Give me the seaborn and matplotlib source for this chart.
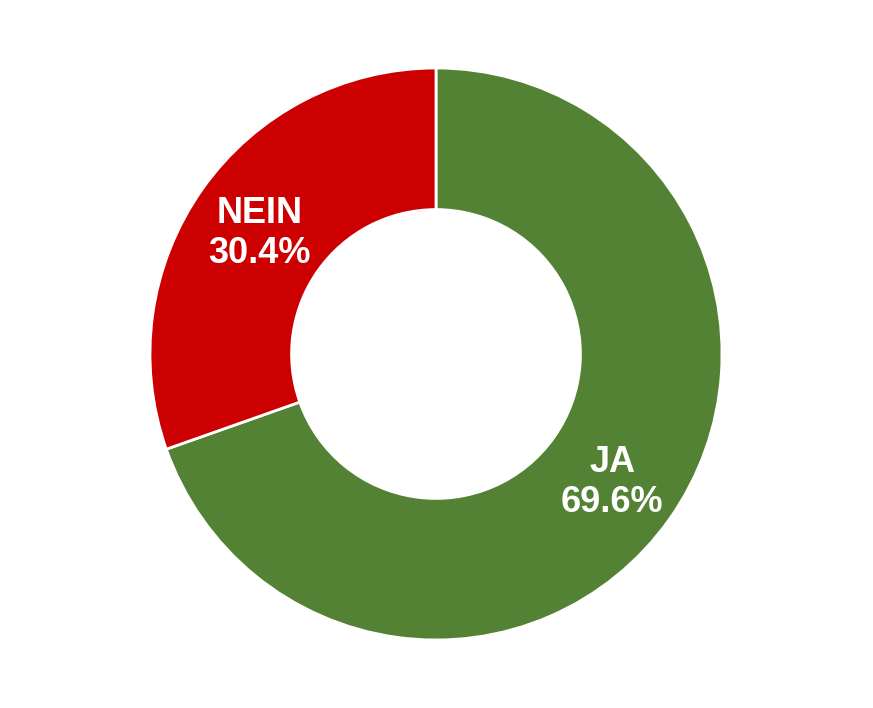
import matplotlib
matplotlib.use("Agg")
import matplotlib.pyplot as plt
import matplotlib.transforms as mtransforms
import seaborn as sns

categories = ["JA", "NEIN"]
values = [69.6, 30.4]
colors = ["#548235", "#CC0000"]

sns.set_theme(style="white")
plt.rcParams["font.family"] = ["Liberation Sans", "DejaVu Sans"]

W, H = 873, 708
fig = plt.figure(figsize=(W / 100, H / 100), dpi=100)
cx, cy, r = 436, 354, 286
ax = fig.add_axes([(cx - r) / W, (H - cy - r) / H, 2 * r / W, 2 * r / H])

labels = [f"{c}\n{v:.1f}%" for c, v in zip(categories, values)]
wedges, texts = ax.pie(
    values,
    labels=labels,
    colors=colors,
    startangle=90,
    counterclock=False,
    labeldistance=0.755,
    radius=1.0,
    wedgeprops=dict(width=0.495, edgecolor="white", linewidth=2),
    textprops=dict(color="white", fontsize=26, fontweight="bold", ha="center", va="center"),
)
offset = mtransforms.ScaledTranslation(0, -4 / 100, fig.dpi_scale_trans)
for t in texts:
    t.set_horizontalalignment("center")
    t.set_verticalalignment("center")
    t.set_linespacing(1.18)
    t.set_transform(t.get_transform() + offset)

ax.set_xlim(-1, 1)
ax.set_ylim(-1, 1)
ax.set_aspect("equal")
ax.axis("off")

fig.savefig("out.png", dpi=100, facecolor="white")
